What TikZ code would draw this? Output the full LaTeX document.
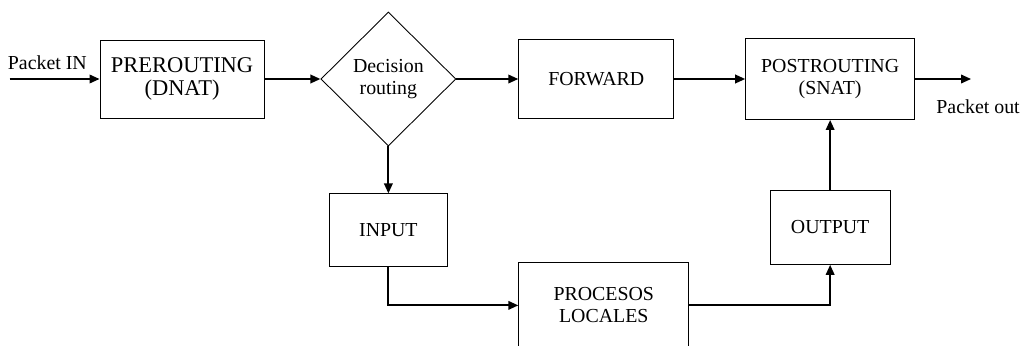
\documentclass[tikz,border=0pt]{standalone}
\usepackage{fontspec}
\setmainfont{Liberation Serif}
\usepackage{tikz}
\usetikzlibrary{arrows.meta}
\usetikzlibrary{shapes.geometric}
\usetikzlibrary{positioning}

\begin{document}
\begin{tikzpicture}[node distance=1cm, font=\fontsize{11.3}{12.5}\selectfont]
  \tikzstyle{box}=[rectangle, draw=black, line width=0.5pt, inner sep=0pt, align=center, text centered]
  \tikzstyle{dbox}=[diamond, aspect=1, draw=black, line width=0.5pt, inner sep=0pt, align=center, text centered]
  \tikzstyle{lbl}=[inner sep=0pt]
  \tikzstyle{flow}=[-{Triangle[length=0.2cm, width=0.17cm]}, line width=1.1pt]
  \useasboundingbox (0,0) rectangle (20.42,-6.9);

  \node (pre) [box, minimum width=3.28cm, minimum height=1.56cm, font=\fontsize{12.8}{12.8}\selectfont] at (3.64,-1.58) {PREROUTING\\(DNAT)};
  \node (dec) [dbox, right=1.12cm of pre, minimum width=2.7cm, minimum height=2.68cm]{Decision\\routing};
  \node (fwd) [box, right=1.24cm of dec, minimum width=3.1cm, minimum height=1.58cm]{FORWARD};
  \node (post) [box, right=1.42cm of fwd, minimum width=3.38cm, minimum height=1.62cm]{POSTROUTING\\(SNAT)};

  \node (input) [box, below=0.94cm of dec, minimum width=2.36cm, minimum height=1.46cm]{INPUT};
  \node (proc) [box, below=2.86cm of fwd.south west, anchor=north west, minimum width=3.4cm, minimum height=1.72cm]{PROCESOS\\LOCALES};
  \node (output) [box, below=1.4cm of post, minimum width=2.4cm, minimum height=1.48cm]{OUTPUT};

  \coordinate [left=1.8cm of pre.west] (in);
  \coordinate [right=1.12cm of post.east] (out);
  \node (inlbl) [lbl, above right=0.18cm and -0.04cm of in]{Packet IN};
  \node (outlbl) [lbl, below right=0.4cm and -0.7cm of out]{Packet out};

  \draw[flow] (in) -- (pre);
  \draw[flow] (pre) -- (dec);
  \draw[flow] (dec) -- (fwd);
  \draw[flow] (fwd) -- (post);
  \draw[flow] (post) -- (out);
  \draw[flow] (dec.south) -- (input.north);
  \draw[flow] (input.south) |- (proc.west);
  \draw[flow] (proc.east) -| (output.south);
  \draw[flow] (output) -- (post);
\end{tikzpicture}
\end{document}
